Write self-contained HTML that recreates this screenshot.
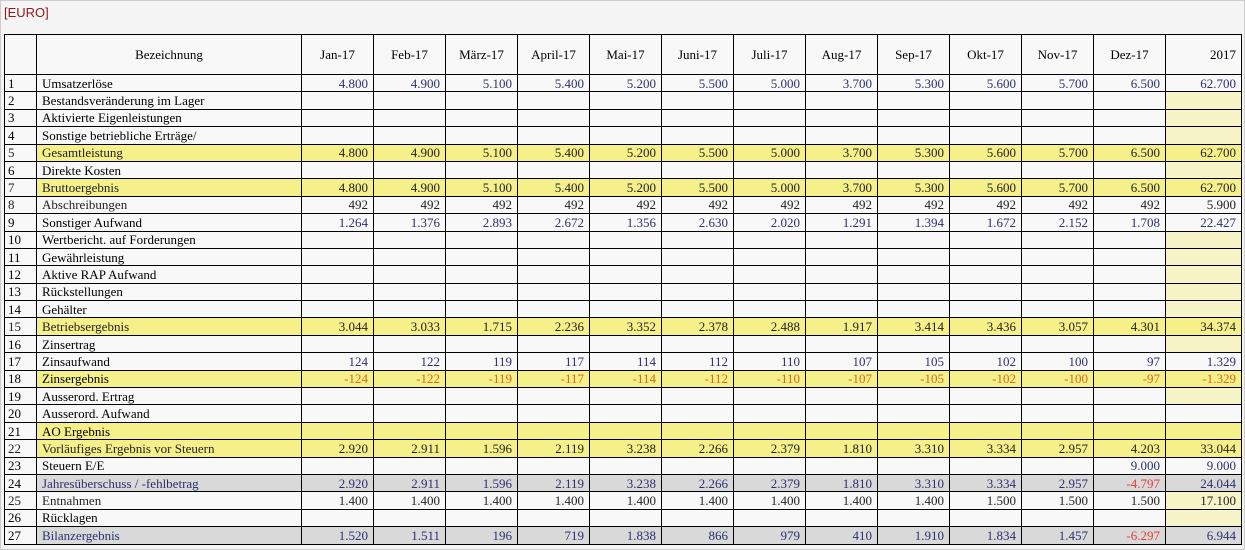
<!DOCTYPE html>
<html><head><meta charset="utf-8"><style>
body{margin:0;width:1245px;height:550px;background:#f4f4f4;position:relative;overflow:hidden;font-family:"Liberation Serif",serif;}
#frame{position:absolute;left:0;top:0;width:1243px;height:548px;border:1px solid #ccc;}
#eur{position:absolute;left:4px;top:5px;font-family:"Liberation Sans",sans-serif;font-size:13px;color:#8b1a1a;}
table{position:absolute;left:4px;top:34px;border-collapse:collapse;table-layout:fixed;width:1237px;font-size:13px;}
td{border:1px solid #000;padding:0 5px;height:16.4px;line-height:15px;white-space:nowrap;overflow:hidden;background:#f8f8f8;color:#2b3070;text-align:right;}
td:nth-child(1){text-align:left;color:#000;padding-left:3px}
td:nth-child(2){text-align:left;color:#000;}
tr.h td{height:39px;text-align:center;color:#000;}
tr.h td:last-child{text-align:right}
tr.y td{background:#f6f08a;}
tr.y td:nth-child(1){background:#f8f8f8}
tr.g td{background:#d9d9d9;}
tr.g td:nth-child(1){background:#f8f8f8}
tr.g td:nth-child(2){color:#2b3070}
tr.o td{color:#d2691e}
tr.o td:nth-child(1),tr.o td:nth-child(2){color:#000}
td.ly{background:#f7f5c8}
tr.k td{color:#222}
tr.r td.n{color:#e03c3c}
</style></head><body><div id="frame"></div>
<div id="eur">[EURO]</div>
<table>
<colgroup><col style="width:32px"><col style="width:265px"><col span="12" style="width:72px"><col style="width:76px"></colgroup>
<tr class="h"><td></td><td>Bezeichnung</td><td>Jan-17</td><td>Feb-17</td><td>März-17</td><td>April-17</td><td>Mai-17</td><td>Juni-17</td><td>Juli-17</td><td>Aug-17</td><td>Sep-17</td><td>Okt-17</td><td>Nov-17</td><td>Dez-17</td><td>2017</td></tr>
<tr><td>1</td><td>Umsatzerlöse</td><td>4.800</td><td>4.900</td><td>5.100</td><td>5.400</td><td>5.200</td><td>5.500</td><td>5.000</td><td>3.700</td><td>5.300</td><td>5.600</td><td>5.700</td><td>6.500</td><td>62.700</td></tr>
<tr><td>2</td><td>Bestandsveränderung im Lager</td><td></td><td></td><td></td><td></td><td></td><td></td><td></td><td></td><td></td><td></td><td></td><td></td><td class="ly"></td></tr>
<tr><td>3</td><td>Aktivierte Eigenleistungen</td><td></td><td></td><td></td><td></td><td></td><td></td><td></td><td></td><td></td><td></td><td></td><td></td><td class="ly"></td></tr>
<tr><td>4</td><td>Sonstige betriebliche Erträge/</td><td></td><td></td><td></td><td></td><td></td><td></td><td></td><td></td><td></td><td></td><td></td><td></td><td class="ly"></td></tr>
<tr class="y k"><td>5</td><td>Gesamtleistung</td><td>4.800</td><td>4.900</td><td>5.100</td><td>5.400</td><td>5.200</td><td>5.500</td><td>5.000</td><td>3.700</td><td>5.300</td><td>5.600</td><td>5.700</td><td>6.500</td><td>62.700</td></tr>
<tr><td>6</td><td>Direkte Kosten</td><td></td><td></td><td></td><td></td><td></td><td></td><td></td><td></td><td></td><td></td><td></td><td></td><td class="ly"></td></tr>
<tr class="y k"><td>7</td><td>Bruttoergebnis</td><td>4.800</td><td>4.900</td><td>5.100</td><td>5.400</td><td>5.200</td><td>5.500</td><td>5.000</td><td>3.700</td><td>5.300</td><td>5.600</td><td>5.700</td><td>6.500</td><td>62.700</td></tr>
<tr class="k"><td>8</td><td>Abschreibungen</td><td>492</td><td>492</td><td>492</td><td>492</td><td>492</td><td>492</td><td>492</td><td>492</td><td>492</td><td>492</td><td>492</td><td>492</td><td>5.900</td></tr>
<tr><td>9</td><td>Sonstiger Aufwand</td><td>1.264</td><td>1.376</td><td>2.893</td><td>2.672</td><td>1.356</td><td>2.630</td><td>2.020</td><td>1.291</td><td>1.394</td><td>1.672</td><td>2.152</td><td>1.708</td><td>22.427</td></tr>
<tr><td>10</td><td>Wertbericht. auf Forderungen</td><td></td><td></td><td></td><td></td><td></td><td></td><td></td><td></td><td></td><td></td><td></td><td></td><td class="ly"></td></tr>
<tr><td>11</td><td>Gewährleistung</td><td></td><td></td><td></td><td></td><td></td><td></td><td></td><td></td><td></td><td></td><td></td><td></td><td class="ly"></td></tr>
<tr><td>12</td><td>Aktive RAP Aufwand</td><td></td><td></td><td></td><td></td><td></td><td></td><td></td><td></td><td></td><td></td><td></td><td></td><td class="ly"></td></tr>
<tr><td>13</td><td>Rückstellungen</td><td></td><td></td><td></td><td></td><td></td><td></td><td></td><td></td><td></td><td></td><td></td><td></td><td class="ly"></td></tr>
<tr><td>14</td><td>Gehälter</td><td></td><td></td><td></td><td></td><td></td><td></td><td></td><td></td><td></td><td></td><td></td><td></td><td class="ly"></td></tr>
<tr class="y k"><td>15</td><td>Betriebsergebnis</td><td>3.044</td><td>3.033</td><td>1.715</td><td>2.236</td><td>3.352</td><td>2.378</td><td>2.488</td><td>1.917</td><td>3.414</td><td>3.436</td><td>3.057</td><td>4.301</td><td>34.374</td></tr>
<tr><td>16</td><td>Zinsertrag</td><td></td><td></td><td></td><td></td><td></td><td></td><td></td><td></td><td></td><td></td><td></td><td></td><td class="ly"></td></tr>
<tr><td>17</td><td>Zinsaufwand</td><td>124</td><td>122</td><td>119</td><td>117</td><td>114</td><td>112</td><td>110</td><td>107</td><td>105</td><td>102</td><td>100</td><td>97</td><td>1.329</td></tr>
<tr class="y o"><td>18</td><td>Zinsergebnis</td><td>-124</td><td>-122</td><td>-119</td><td>-117</td><td>-114</td><td>-112</td><td>-110</td><td>-107</td><td>-105</td><td>-102</td><td>-100</td><td>-97</td><td>-1.329</td></tr>
<tr><td>19</td><td>Ausserord. Ertrag</td><td></td><td></td><td></td><td></td><td></td><td></td><td></td><td></td><td></td><td></td><td></td><td></td><td class="ly"></td></tr>
<tr><td>20</td><td>Ausserord. Aufwand</td><td></td><td></td><td></td><td></td><td></td><td></td><td></td><td></td><td></td><td></td><td></td><td></td><td></td></tr>
<tr class="y"><td>21</td><td>AO Ergebnis</td><td></td><td></td><td></td><td></td><td></td><td></td><td></td><td></td><td></td><td></td><td></td><td></td><td></td></tr>
<tr class="y k"><td>22</td><td>Vorläufiges Ergebnis vor Steuern</td><td>2.920</td><td>2.911</td><td>1.596</td><td>2.119</td><td>3.238</td><td>2.266</td><td>2.379</td><td>1.810</td><td>3.310</td><td>3.334</td><td>2.957</td><td>4.203</td><td>33.044</td></tr>
<tr><td>23</td><td>Steuern E/E</td><td></td><td></td><td></td><td></td><td></td><td></td><td></td><td></td><td></td><td></td><td></td><td>9.000</td><td>9.000</td></tr>
<tr class="g r"><td>24</td><td>Jahresüberschuss / -fehlbetrag</td><td>2.920</td><td>2.911</td><td>1.596</td><td>2.119</td><td>3.238</td><td>2.266</td><td>2.379</td><td>1.810</td><td>3.310</td><td>3.334</td><td>2.957</td><td class="n">-4.797</td><td>24.044</td></tr>
<tr class="k"><td>25</td><td>Entnahmen</td><td>1.400</td><td>1.400</td><td>1.400</td><td>1.400</td><td>1.400</td><td>1.400</td><td>1.400</td><td>1.400</td><td>1.400</td><td>1.500</td><td>1.500</td><td>1.500</td><td class="ly">17.100</td></tr>
<tr><td>26</td><td>Rücklagen</td><td></td><td></td><td></td><td></td><td></td><td></td><td></td><td></td><td></td><td></td><td></td><td></td><td class="ly"></td></tr>
<tr class="g r"><td>27</td><td>Bilanzergebnis</td><td>1.520</td><td>1.511</td><td>196</td><td>719</td><td>1.838</td><td>866</td><td>979</td><td>410</td><td>1.910</td><td>1.834</td><td>1.457</td><td class="n">-6.297</td><td>6.944</td></tr>
</table>
</body></html>
